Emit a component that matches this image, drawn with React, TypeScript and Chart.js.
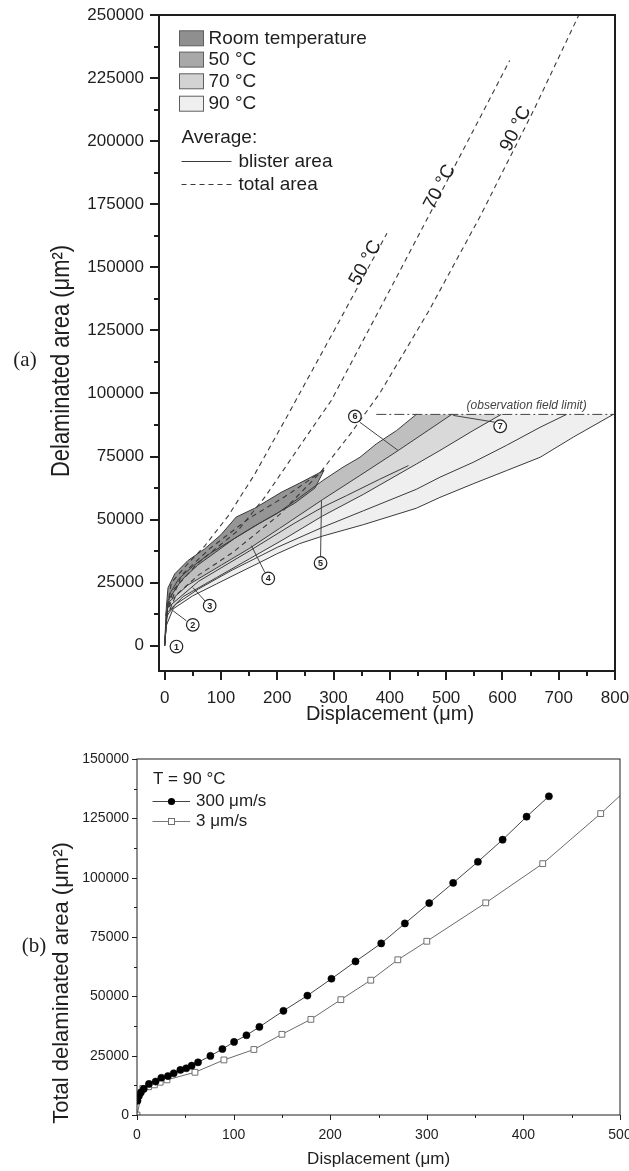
import { useEffect, useRef } from "react";
import { Chart, registerables } from "chart.js";

Chart.register(...registerables);

// ---------------- Panel (a) data ----------------
const xTicksA = [0, 100, 200, 300, 400, 500, 600, 700, 800];
const xMinorA = [50, 150, 250, 350, 450, 550, 650, 750];
const yTicksA = [0, 25000, 50000, 75000, 100000, 125000, 150000, 175000, 200000, 225000, 250000];
const yMinorA = [12500, 37500, 62500, 87500, 112500, 137500, 162500, 187500, 212500, 237500];

// room temperature blister band
const rtUpper = [[0, 0], [3, 15000], [6, 23000], [18, 28500], [41, 33700], [71, 38400], [100, 44000], [127, 51000], [160, 54500], [207, 60800], [240, 64500], [283, 69500]];
const rtLower = [[0, 0], [6, 18000], [30, 26000], [59, 32000], [90, 37000], [124, 42500], [178, 49800], [231, 56500], [267, 62500], [283, 69500]];
// band boundaries / averages (blister area)
const edge1 = [[0, 0], [3, 12000], [10, 21000], [25, 26500], [50, 31500], [80, 36500], [120, 42000], [160, 47500], [199, 52300], [240, 58800], [281, 65500], [317, 70800], [347, 74700], [376, 80000], [412, 85300], [447, 91700]];
const edge2 = [[0, 0], [6, 17000], [41, 24000], [101, 32000], [150, 38500], [204, 46500], [281, 58000], [347, 67500], [415, 77400], [510, 91700]];
const edge3 = [[0, 0], [4, 13000], [33, 19500], [92, 27000], [151, 34500], [210, 42000], [281, 51500], [353, 60000], [447, 72000], [489, 77400], [548, 85300], [598, 91700]];
const avg90 = [[0, 0], [4, 12000], [20, 16500], [60, 22500], [120, 30000], [200, 39000], [281, 47000], [353, 53500], [447, 62000], [489, 66800], [548, 72700], [607, 79400], [667, 86600], [714, 91700]];
const edge5 = [[0, 0], [3, 8000], [15, 14600], [50, 19800], [92, 24500], [127, 28400], [169, 33000], [199, 36400], [240, 40500], [281, 43500], [353, 48000], [447, 54500], [489, 58800], [548, 64200], [607, 69400], [667, 74700], [726, 82700], [797, 91700]];
const avg70 = [[5, 15000], [60, 25500], [150, 37500], [230, 48500], [281, 55000], [323, 59500], [382, 66000], [433, 71400]];
// averages (total area, dashed)
const totalRT = [[2, 12000], [30, 28000], [80, 38500], [150, 50500], [220, 60000], [288, 70500]];
const total50 = [[2, 12000], [12, 25000], [41, 32500], [71, 39500], [113, 51500], [160, 68000], [219, 91500], [252, 105000], [300, 124500], [395, 163500]];
const total70 = [[3, 12000], [15, 22000], [60, 33000], [130, 45600], [178, 58900], [255, 84000], [296, 97200], [400, 141000], [500, 183500], [613, 232000]];
const total90 = [[3, 11000], [20, 20000], [60, 28000], [121, 37000], [204, 52000], [276, 68500], [330, 84000], [382, 100000], [470, 133000], [560, 170000], [655, 212000], [740, 252000]];
const fieldLimit = [[376, 91700], [800, 91700]];

// ---------------- Panel (b) data ----------------
const xTicksB = [0, 100, 200, 300, 400, 500];
const xMinorB = [50, 150, 250, 350, 450];
const yTicksB = [0, 25000, 50000, 75000, 100000, 125000, 150000];
const yMinorB = [12500, 37500, 62500, 87500, 112500, 137500];
const fastX = [0.5, 2, 4, 7, 12.4, 19.3, 25.2, 32, 38, 44.9, 51, 56.6, 63.2, 76, 88.4, 100.5, 113.3, 126.7, 151.6, 176.4, 201.3, 226.2, 252.8, 277.3, 302.5, 327.3, 352.9, 378.5, 403.3, 426.4];
const fastY = [6000, 8000, 9500, 11000, 13100, 14100, 15700, 16400, 17600, 19000, 19700, 20800, 22200, 24900, 27800, 30800, 33600, 37100, 43900, 50300, 57400, 64700, 72300, 80700, 89300, 97800, 106700, 116000, 125700, 134300];
const slowX = [0, 6, 12, 18, 24, 31, 60, 90, 121, 150, 180, 211, 242, 270, 300, 361, 420, 480, 500];
const slowY = [0, 11200, 11900, 12700, 13800, 14800, 18000, 23200, 27600, 34000, 40300, 48600, 56800, 65400, 73200, 89400, 105900, 127000, 134500];

// ---------------- annotations (a) ----------------
const callouts = [
  { n: "1", x: 21, y: -300 },
  { n: "2", x: 50, y: 8300 },
  { n: "3", x: 80, y: 15900 },
  { n: "4", x: 184, y: 26700 },
  { n: "5", x: 277, y: 32800 },
  { n: "6", x: 338, y: 90900 },
  { n: "7", x: 596, y: 87000 },
];
const leaders = [
  [[38.6, 9900], [14.8, 13900]],
  [[74, 17200], [50, 23100]],
  [[178, 29100], [154, 39700]],
  [[277, 35000], [278.6, 57500]],
  [[346.7, 88600], [414.8, 77400]],
  [[586.7, 88600], [512.5, 91300]],
];
const tempLabels = [
  { t: "50 °C", x: 356.8, y: 151700, a: -61.5 },
  { t: "70 °C", x: 488.9, y: 181800, a: -62.4 },
  { t: "90 °C", x: 624, y: 204900, a: -63.7 },
];

const SANS = "'Liberation Sans', Arial, Helvetica, sans-serif";
const SERIF = "'Liberation Serif', 'DejaVu Serif', 'Times New Roman', serif";
const INK = "#1e1e1e";
const LINE = "#3a3a3a";

const toXY = (a: number[][]) => a.map(([x, y]) => ({ x, y }));
const zipXY = (xs: number[], ys: number[]) => xs.map((x, i) => ({ x, y: ys[i] }));

function drawFrame(chart: any, o: any) {
  const { ctx, chartArea: a, scales } = chart;
  ctx.save();
  ctx.strokeStyle = INK;
  ctx.lineWidth = o.lw;
  ctx.strokeRect(a.left, a.top, a.right - a.left, a.bottom - a.top);
  ctx.beginPath();
  const xt = (vals: number[], len: number) => vals.forEach((v) => {
    const p = Math.round(scales.x.getPixelForValue(v)) + (o.lw % 2 ? 0.5 : 0);
    ctx.moveTo(p, a.bottom);
    ctx.lineTo(p, a.bottom + len);
  });
  const yt = (vals: number[], len: number) => vals.forEach((v) => {
    const p = Math.round(scales.y.getPixelForValue(v)) + (o.lw % 2 ? 0.5 : 0);
    ctx.moveTo(a.left, p);
    ctx.lineTo(a.left - len, p);
  });
  xt(o.xMajor, o.major);
  xt(o.xMinor, o.minor);
  yt(o.yMajor, o.major);
  yt(o.yMinor, o.minor);
  ctx.stroke();
  ctx.restore();
}

function text(ctx: any, t: string, x: number, y: number, font: string, align = "left", rot = 0, fitWidth = 0) {
  ctx.save();
  ctx.translate(x, y);
  if (rot) ctx.rotate((rot * Math.PI) / 180);
  ctx.font = font;
  ctx.fillStyle = INK;
  ctx.textAlign = align;
  ctx.textBaseline = "middle";
  if (fitWidth) {
    const w = ctx.measureText(t).width;
    ctx.scale(fitWidth / w, 1);
  }
  ctx.fillText(t, 0, 0);
  ctx.restore();
}

const decorA = {
  id: "decorA",
  afterDraw(chart: any) {
    const { ctx, scales } = chart;
    const X = (v: number) => scales.x.getPixelForValue(v);
    const Y = (v: number) => scales.y.getPixelForValue(v);
    drawFrame(chart, { lw: 2, major: 9, minor: 5, xMajor: xTicksA, xMinor: xMinorA, yMajor: yTicksA, yMinor: yMinorA });

    // callout circles
    ctx.save();
    callouts.forEach((c) => {
      const px = X(c.x), py = Y(c.y);
      ctx.beginPath();
      ctx.arc(px, py, 6.3, 0, Math.PI * 2);
      ctx.fillStyle = "#fff";
      ctx.fill();
      ctx.lineWidth = 1.2;
      ctx.strokeStyle = "#222";
      ctx.stroke();
      ctx.fillStyle = "#222";
      ctx.font = `bold 9px ${SANS}`;
      ctx.textAlign = "center";
      ctx.textBaseline = "middle";
      ctx.fillText(c.n, px, py + 0.5);
    });
    ctx.restore();

    tempLabels.forEach((l) => text(ctx, l.t, X(l.x), Y(l.y), `19px ${SANS}`, "center", l.a));
    ctx.save();
    ctx.fillStyle = "#444";
    ctx.font = `italic 12px ${SANS}`;
    ctx.textAlign = "center";
    ctx.textBaseline = "middle";
    ctx.fillText("(observation field limit)", X(643), Y(95300));
    ctx.restore();

    // legend
    const sw = [
      ["Room temperature", "#8f8f8f", 38.3],
      ["50 °C", "#a8a8a8", 59.6],
      ["70 °C", "#d3d3d3", 81.3],
      ["90 °C", "#efefef", 103.7],
    ];
    ctx.save();
    sw.forEach(([label, col, cy]: any) => {
      ctx.fillStyle = col;
      ctx.fillRect(179.5, cy - 7.5, 24, 15);
      ctx.strokeStyle = "#5e5e5e";
      ctx.lineWidth = 1;
      ctx.strokeRect(179.5, cy - 7.5, 24, 15);
      text(ctx, label, 208.5, cy + 0.5, `19px ${SANS}`);
    });
    text(ctx, "Average:", 181.5, 137.5, `19px ${SANS}`);
    ctx.strokeStyle = LINE;
    ctx.lineWidth = 1;
    ctx.beginPath();
    ctx.moveTo(181.5, 161.5);
    ctx.lineTo(231.5, 161.5);
    ctx.stroke();
    ctx.setLineDash([5, 4]);
    ctx.beginPath();
    ctx.moveTo(181.5, 184.5);
    ctx.lineTo(231.5, 184.5);
    ctx.stroke();
    ctx.setLineDash([]);
    ctx.restore();
    text(ctx, "blister area", 238.5, 161.5, `19px ${SANS}`);
    text(ctx, "total area", 238.5, 184.5, `19px ${SANS}`);

    // titles
    text(ctx, "Displacement (μm)", 390, 714, `20px ${SANS}`, "center");
    text(ctx, "Delaminated area (μm²)", 61.7, 361, `25px ${SANS}`, "center", -90, 232);
    text(ctx, "(a)", 25, 360, `21px ${SERIF}`, "center");
  },
};

const decorB = {
  id: "decorB",
  afterDraw(chart: any) {
    const { ctx } = chart;
    drawFrame(chart, { lw: 1, major: 5, minor: 3, xMajor: xTicksB, xMinor: xMinorB, yMajor: yTicksB, yMinor: yMinorB });
    text(ctx, "T = 90 °C", 153, 49, `17px ${SANS}`);
    ctx.save();
    ctx.lineWidth = 1;
    ctx.strokeStyle = "#444";
    ctx.beginPath();
    ctx.moveTo(152.5, 71.5);
    ctx.lineTo(190, 71.5);
    ctx.stroke();
    ctx.fillStyle = "#000";
    ctx.beginPath();
    ctx.arc(171.5, 71.5, 3.6, 0, Math.PI * 2);
    ctx.fill();
    ctx.strokeStyle = "#777";
    ctx.beginPath();
    ctx.moveTo(152.5, 91.5);
    ctx.lineTo(190, 91.5);
    ctx.stroke();
    ctx.fillStyle = "#fff";
    ctx.fillRect(168.5, 88.5, 6, 6);
    ctx.strokeStyle = "#707070";
    ctx.strokeRect(168.5, 88.5, 6, 6);
    ctx.restore();
    text(ctx, "300 μm/s", 196, 71.5, `17px ${SANS}`);
    text(ctx, "3 μm/s", 196, 91.5, `17px ${SANS}`);
    text(ctx, "Displacement (μm)", 378.6, 429, `17px ${SANS}`, "center");
    text(ctx, "Total delaminated area (μm²)", 62, 253, `22px ${SANS}`, "center", -90);
    text(ctx, "(b)", 34, 216, `21px ${SERIF}`, "center");
  },
};

const lineDs = (pts: number[][], extra: any = {}) => ({
  data: toXY(pts),
  borderColor: LINE,
  borderWidth: 1,
  pointRadius: 0,
  tension: 0,
  fill: false,
  ...extra,
});
const fillDs = (pts: number[][], target: number, color: string, order: number) => ({
  data: toXY(pts),
  borderColor: "rgba(0,0,0,0)",
  borderWidth: 0,
  pointRadius: 0,
  tension: 0,
  fill: { target },
  backgroundColor: color,
  order,
});

const noPadX = (h: number) => (s: any) => {
  s.height = h;
  s.paddingLeft = 0;
  s.paddingRight = 0;
};
const noPadY = (w: number) => (s: any) => {
  s.width = w;
  s.paddingTop = 0;
  s.paddingBottom = 0;
};

function configA(): any {
  const datasets: any[] = [
    /*0*/ lineDs(edge5),
    /*1*/ fillDs([...edge3, [797, 91700]], 0, "#efefef", 40),
    /*2*/ lineDs(edge3),
    /*3*/ fillDs([...edge2, [598, 91700]], 2, "#d9d9d9", 30),
    /*4*/ lineDs(edge2),
    /*5*/ fillDs([...edge1, [510, 91700]], 4, "#bfbfbf", 20),
    /*6*/ lineDs(edge1),
    /*7*/ lineDs(rtLower),
    /*8*/ lineDs(rtUpper, { fill: { target: 7 }, backgroundColor: "#959595", order: 10 }),
    lineDs(avg90),
    lineDs(avg70),
    lineDs(totalRT, { borderDash: [5, 4], borderWidth: 1.1 }),
    lineDs(total50, { borderDash: [5, 4], borderWidth: 1.1 }),
    lineDs(total70, { borderDash: [5, 4], borderWidth: 1.1 }),
    lineDs(total90, { borderDash: [5, 4], borderWidth: 1.1 }),
    lineDs(fieldLimit, { borderDash: [10, 3, 2, 3], borderColor: "#444" }),
    ...leaders.map((l) => lineDs(l, { borderColor: "#444" })),
  ];
  return {
    type: "line",
    data: { datasets },
    options: {
      responsive: false,
      animation: false,
      devicePixelRatio: 1,
      layout: { padding: { left: 0, right: 14, top: 15, bottom: 0 } },
      plugins: {
        legend: { display: false },
        tooltip: { enabled: false },
        filler: { drawTime: "beforeDatasetsDraw" },
      },
      scales: {
        x: {
          type: "linear",
          min: -10,
          max: 800,
          grid: { display: false, drawTicks: false },
          border: { display: false },
          afterBuildTicks: (s: any) => { s.ticks = xTicksA.map((value) => ({ value })); },
          afterFit: noPadX(59),
          ticks: { font: { family: SANS, size: 17 }, color: INK, padding: 17, maxRotation: 0, callback: (v: any) => String(v) },
        },
        y: {
          type: "linear",
          min: -10000,
          max: 250000,
          grid: { display: false, drawTicks: false },
          border: { display: false },
          afterBuildTicks: (s: any) => { s.ticks = yTicksA.map((value) => ({ value })); },
          afterFit: noPadY(159),
          ticks: { font: { family: SANS, size: 17 }, color: INK, padding: 15, callback: (v: any) => String(v) },
        },
      },
    },
    plugins: [decorA],
  };
}

function configB(): any {
  return {
    type: "line",
    data: {
      datasets: [
        {
          label: "300 μm/s",
          data: zipXY(fastX, fastY),
          borderColor: "#444",
          borderWidth: 1,
          pointStyle: "circle",
          pointRadius: 3.6,
          pointBackgroundColor: "#000",
          pointBorderColor: "#000",
          pointBorderWidth: 0.5,
          tension: 0,
          fill: false,
        },
        {
          label: "3 μm/s",
          data: zipXY(slowX, slowY),
          borderColor: "#6a6a6a",
          borderWidth: 1,
          pointStyle: "rect",
          pointRadius: slowX.map((x, i) => (i === slowX.length - 1 ? 0 : 4.1)),
          pointBackgroundColor: "#fff",
          pointBorderColor: "#707070",
          pointBorderWidth: 1,
          tension: 0,
          fill: false,
        },
      ],
    },
    options: {
      responsive: false,
      animation: false,
      devicePixelRatio: 1,
      layout: { padding: { left: 0, right: 40, top: 29, bottom: 0 } },
      plugins: { legend: { display: false }, tooltip: { enabled: false } },
      scales: {
        x: {
          type: "linear",
          min: 0,
          max: 500,
          grid: { display: false, drawTicks: false },
          border: { display: false },
          afterBuildTicks: (s: any) => { s.ticks = xTicksB.map((value) => ({ value })); },
          afterFit: noPadX(56),
          ticks: { font: { family: SANS, size: 14 }, color: INK, padding: 12, maxRotation: 0, callback: (v: any) => String(v) },
        },
        y: {
          type: "linear",
          min: 0,
          max: 150000,
          grid: { display: false, drawTicks: false },
          border: { display: false },
          afterBuildTicks: (s: any) => { s.ticks = yTicksB.map((value) => ({ value })); },
          afterFit: noPadY(137),
          ticks: { font: { family: SANS, size: 14 }, color: INK, padding: 8, callback: (v: any) => String(v) },
        },
      },
    },
    plugins: [decorB],
  };
}

export default function App() {
  const refA = useRef<HTMLCanvasElement>(null);
  const refB = useRef<HTMLCanvasElement>(null);
  useEffect(() => {
    const ca = new Chart(refA.current as HTMLCanvasElement, configA());
    const cb = new Chart(refB.current as HTMLCanvasElement, configB());
    return () => {
      ca.destroy();
      cb.destroy();
    };
  }, []);
  return (
    <div style={{ position: "absolute", left: 0, top: 0, width: 629, height: 1171, overflow: "hidden", background: "#fff" }}>
      <canvas ref={refA} width={629} height={730} style={{ display: "block", width: 629, height: 730 }} />
      <canvas ref={refB} width={660} height={441} style={{ display: "block", width: 660, height: 441 }} />
    </div>
  );
}
